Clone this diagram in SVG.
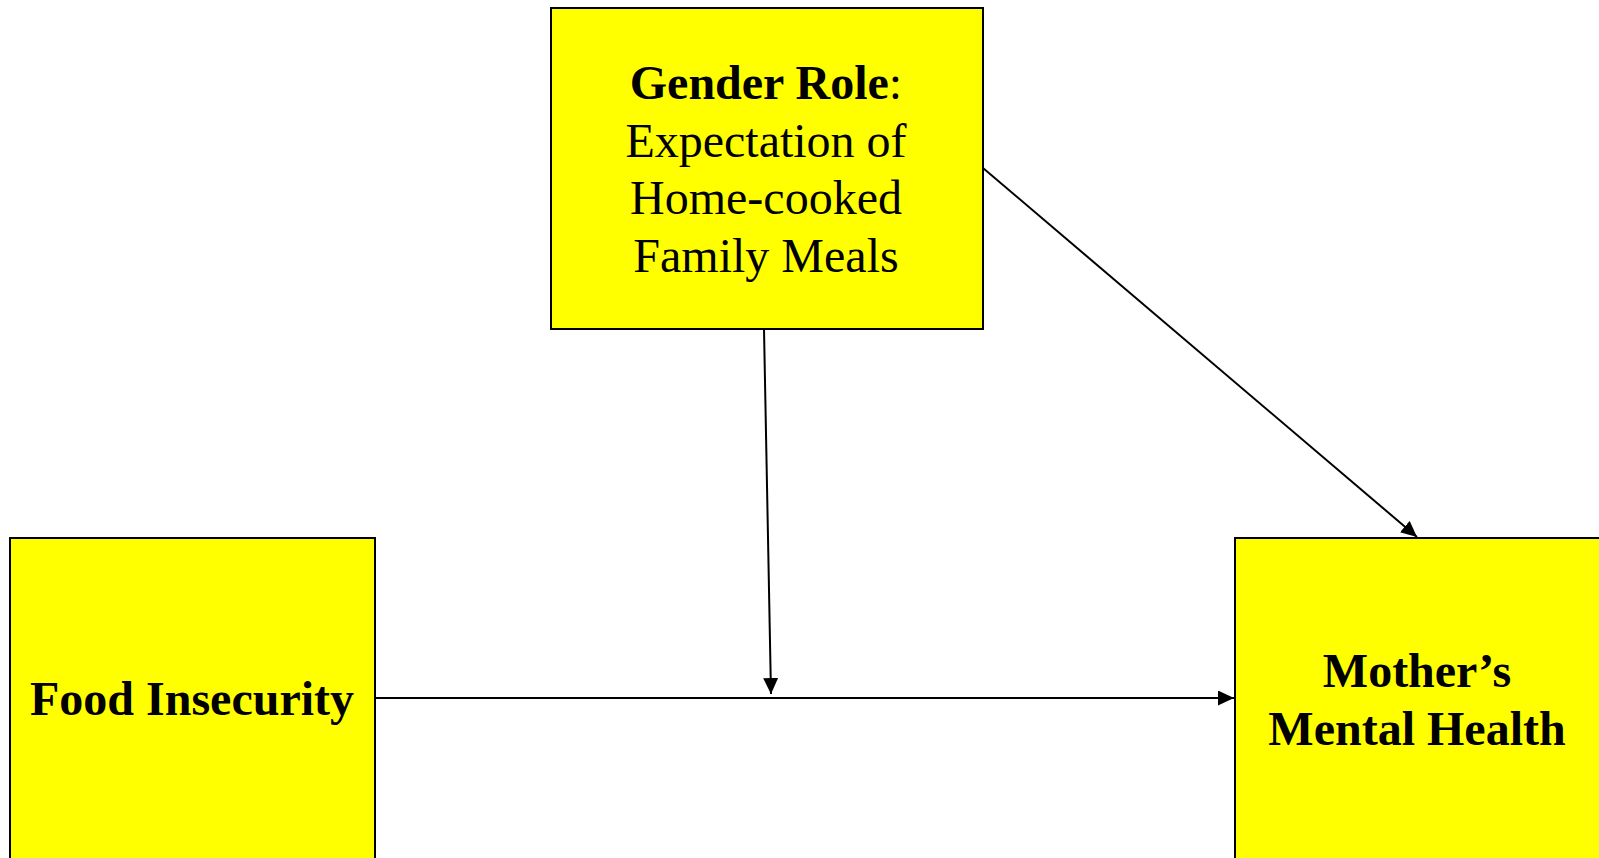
<svg xmlns="http://www.w3.org/2000/svg" width="1599" height="858" viewBox="0 0 1599 858">
<style>
.box{fill:#ffff00;stroke:#000;stroke-width:2}
.t{font-family:"Liberation Serif","Times New Roman",serif;font-size:48px;fill:#000;text-anchor:middle}
.b{font-weight:bold}
.c{stroke:#000;stroke-width:2;fill:none}
</style>
<defs>
<marker id="arr" viewBox="0 0 16 15" refX="16" refY="7.5" markerWidth="16" markerHeight="15" markerUnits="userSpaceOnUse" orient="auto">
<path d="M0,0 L16,7.5 L0,15 z" fill="#000"/>
</marker>
</defs>
<rect width="1599" height="858" fill="#fff"/>
<g id="connectors">
<line class="c" x1="375" y1="698" x2="1234" y2="698" marker-end="url(#arr)"/>
<line class="c" x1="764" y1="329" x2="771" y2="694" marker-end="url(#arr)"/>
<line class="c" x1="983" y1="168" x2="1417" y2="537" marker-end="url(#arr)"/>
</g>
<g id="gender-role">
<rect class="box" x="551" y="8" width="432" height="321"/>
<text class="t" x="766" y="99"><tspan class="b">Gender Role</tspan>:</text>
<text class="t" x="766" y="157">Expectation of</text>
<text class="t" x="766" y="214">Home-cooked</text>
<text class="t" x="766" y="272">Family Meals</text>
</g>
<g id="food-insecurity">
<rect class="box" x="10" y="538" width="365" height="340"/>
<text class="t b" x="192" y="715">Food Insecurity</text>
</g>
<g id="mental-health">
<rect class="box" x="1235" y="538" width="365" height="340"/>
<text class="t b" x="1417" y="687">Mother’s</text>
<text class="t b" x="1417" y="745">Mental Health</text>
</g>
</svg>
